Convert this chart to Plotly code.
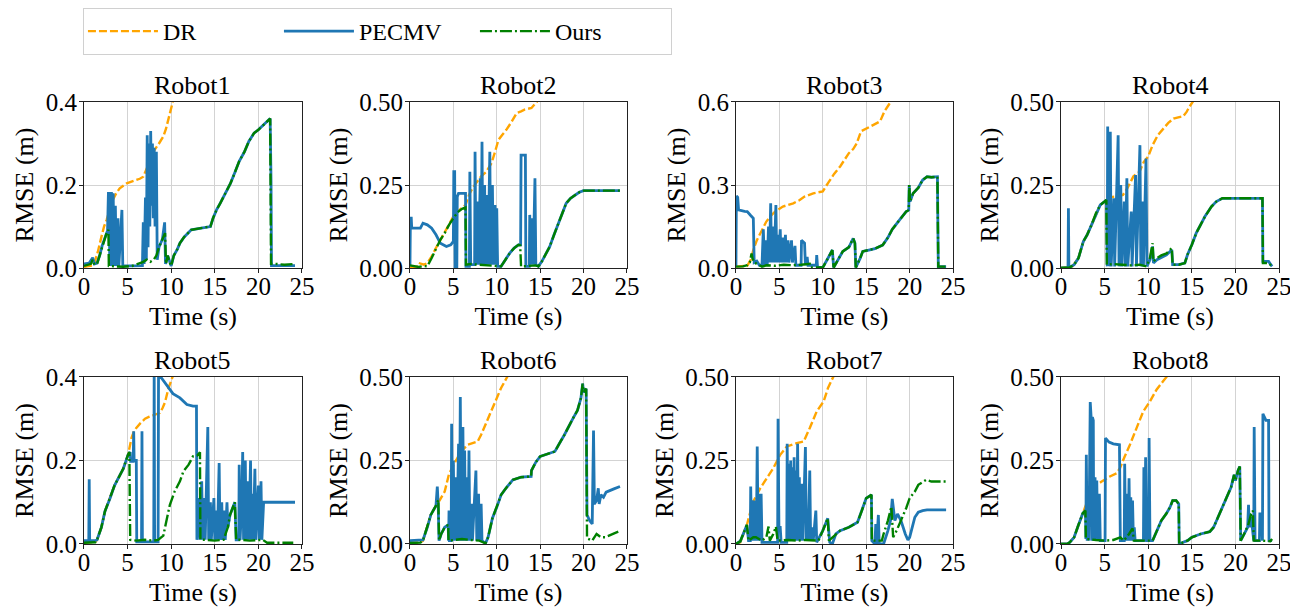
import plotly.graph_objects as go

# ---------------- data: [time (s), RMSE (m)] ----------------
r1_dr = [[0,0.003],[1.0,0.006],[1.2,0.012],[1.6,0.04],[2.0,0.075],[2.3,0.1],[2.6,0.116],[2.9,0.135],[3.3,0.164],[3.7,0.18],[4.1,0.192],[4.9,0.204],[5.8,0.21],[6.4,0.215],[6.8,0.22],[7.1,0.235],[7.4,0.25],[8.1,0.285],[8.6,0.3],[9.1,0.317],[9.4,0.335],[9.7,0.357],[10.0,0.385],[10.3,0.41]]
r1_pe = [[0,0.01],[0.6,0.012],[1.0,0.025],[1.2,0.01],[1.5,0.012],[1.8,0.03],[2.1,0.055],[2.4,0.075],[2.7,0.09],[2.8,0.18],[2.9,0.18],[2.95,0.005],[3.05,0.18],[3.15,0.18],[3.2,0.005],[3.35,0.18],[3.45,0.005],[3.6,0.15],[3.7,0.005],[3.9,0.12],[4.0,0.005],[4.35,0.14],[4.45,0.005],[5.5,0.005],[6.7,0.006],[6.8,0.11],[6.9,0.01],[7.05,0.17],[7.15,0.02],[7.25,0.32],[7.35,0.05],[7.45,0.3],[7.55,0.1],[7.65,0.33],[7.75,0.15],[7.85,0.3],[7.95,0.12],[8.05,0.29],[8.15,0.1],[8.3,0.28],[8.4,0.02],[8.6,0.05],[9.0,0.07],[9.25,0.11],[9.35,0.01],[9.6,0.03],[9.8,0.015],[10.0,0.005],[10.3,0.03],[10.7,0.045],[11.0,0.06],[11.5,0.075],[12.3,0.092],[13.0,0.095],[14.0,0.098],[14.5,0.1],[14.8,0.12],[15.2,0.14],[15.6,0.155],[16.2,0.18],[16.8,0.204],[17.3,0.23],[17.8,0.257],[18.4,0.28],[18.9,0.305],[19.5,0.325],[20.0,0.333],[20.6,0.345],[21.35,0.36],[21.45,0.21],[21.5,0.006],[22,0.006],[24.2,0.006]]
r1_ours = [[0,0.005],[0.4,0.008],[0.8,0.01],[1.0,0.02],[1.2,0.008],[1.5,0.01],[1.8,0.03],[2.1,0.055],[2.4,0.075],[2.6,0.085],[2.8,0.092],[2.85,0.005],[3.5,0.004],[4.5,0.003],[5.5,0.005],[6.2,0.01],[6.8,0.015],[7.2,0.02],[7.6,0.015],[8.0,0.02],[8.3,0.03],[8.6,0.05],[9.0,0.07],[9.3,0.084],[9.4,0.01],[9.6,0.03],[9.8,0.015],[10.0,0.005],[10.3,0.03],[10.7,0.045],[11.0,0.06],[11.5,0.075],[12.3,0.092],[13.0,0.095],[14.0,0.098],[14.5,0.1],[14.8,0.12],[15.2,0.14],[15.6,0.155],[16.2,0.18],[16.8,0.204],[17.3,0.23],[17.8,0.257],[18.4,0.28],[18.9,0.305],[19.5,0.325],[20.0,0.333],[20.6,0.345],[21.35,0.36],[21.45,0.01],[22,0.01],[23,0.008],[24.2,0.01]]

r2_dr = [[0,0.002],[1.0,0.005],[1.15,0.014],[1.6,0.01],[2.0,0.015],[2.5,0.035],[3.07,0.064],[3.5,0.085],[4.0,0.105],[4.5,0.13],[5.0,0.155],[5.5,0.17],[5.9,0.18],[6.4,0.19],[6.8,0.22],[7.1,0.235],[7.6,0.255],[8.2,0.276],[8.8,0.29],[9.4,0.316],[9.8,0.35],[10.2,0.386],[10.6,0.4],[11.1,0.416],[11.7,0.44],[12.3,0.467],[12.8,0.472],[13.2,0.477],[14.0,0.482],[14.3,0.49],[14.6,0.5],[15.0,0.52]]
r2_pe = [[0,0.005],[0.05,0.15],[0.15,0.15],[0.2,0.12],[0.8,0.12],[1.2,0.12],[1.5,0.135],[2.0,0.13],[2.5,0.12],[3.0,0.1],[3.5,0.075],[4.2,0.065],[4.7,0.07],[5.0,0.08],[5.05,0.29],[5.15,0.29],[5.2,0.0],[5.4,0.0],[5.45,0.215],[5.6,0.225],[6.4,0.225],[6.45,0.005],[6.85,0.005],[6.9,0.29],[7.0,0.01],[7.45,0.01],[7.5,0.35],[7.6,0.01],[7.8,0.2],[7.9,0.01],[8.1,0.27],[8.2,0.01],[8.3,0.38],[8.4,0.01],[8.6,0.25],[8.7,0.01],[8.9,0.22],[9.0,0.01],[9.2,0.35],[9.3,0.01],[9.5,0.25],[9.6,0.01],[9.8,0.19],[9.9,0.01],[10.0,0.18],[10.1,0.005],[10.5,0.005],[11.0,0.025],[11.5,0.045],[12.0,0.06],[12.5,0.07],[12.75,0.07],[12.8,0.34],[13.3,0.34],[13.35,0.005],[13.75,0.005],[13.8,0.16],[13.9,0.01],[14.1,0.15],[14.2,0.01],[14.4,0.27],[14.5,0.01],[14.8,0.005],[15.2,0.02],[15.6,0.04],[16.1,0.064],[16.6,0.1],[17.1,0.135],[17.5,0.165],[18.0,0.195],[18.5,0.21],[19.0,0.22],[19.5,0.228],[20.0,0.233],[24.2,0.233]]
r2_ours = [[0,0.008],[0.5,0.005],[1.0,0.003],[1.5,0.006],[2.0,0.005],[2.5,0.03],[3.0,0.06],[3.5,0.085],[4.0,0.105],[4.5,0.13],[5.0,0.15],[5.5,0.168],[6.0,0.178],[6.4,0.182],[6.45,0.01],[7.0,0.012],[8.0,0.01],[9.0,0.008],[10.0,0.005],[10.5,0.005],[11.0,0.025],[11.5,0.045],[12.0,0.06],[12.5,0.07],[12.7,0.068],[12.8,0.005],[13.5,0.006],[14.5,0.008],[14.8,0.005],[15.2,0.02],[15.6,0.04],[16.1,0.064],[16.6,0.1],[17.1,0.135],[17.5,0.165],[18.0,0.195],[18.5,0.21],[19.0,0.22],[19.5,0.228],[20.0,0.233],[24.2,0.233]]

r3_dr = [[0,0.005],[1.3,0.008],[1.7,0.03],[2.0,0.065],[2.4,0.1],[3.0,0.135],[3.5,0.168],[4.0,0.188],[4.5,0.204],[5.4,0.222],[6.0,0.228],[6.6,0.234],[7.3,0.245],[7.9,0.258],[8.9,0.27],[10.0,0.277],[10.6,0.307],[11.3,0.34],[12.0,0.367],[12.5,0.39],[13.0,0.415],[13.5,0.43],[13.9,0.45],[14.4,0.494],[15.4,0.512],[16.0,0.52],[16.6,0.53],[17.1,0.566],[17.6,0.59],[18.0,0.61]]
r3_pe = [[0,0.005],[0.05,0.26],[0.2,0.255],[0.3,0.21],[1.0,0.205],[1.3,0.204],[1.7,0.19],[2.0,0.18],[2.1,0.02],[2.4,0.025],[2.7,0.01],[3.0,0.01],[3.15,0.14],[3.3,0.01],[3.5,0.1],[3.6,0.01],[3.75,0.15],[3.85,0.02],[4.0,0.234],[4.1,0.02],[4.3,0.15],[4.4,0.02],[4.6,0.228],[4.7,0.02],[4.8,0.12],[4.9,0.02],[5.1,0.14],[5.2,0.02],[5.4,0.11],[5.5,0.02],[5.7,0.12],[5.8,0.02],[6.0,0.1],[6.1,0.02],[6.4,0.1],[6.5,0.02],[6.8,0.08],[6.9,0.01],[7.5,0.01],[7.55,0.1],[7.9,0.09],[8.0,0.01],[8.2,0.04],[8.3,0.01],[9.25,0.01],[9.3,0.047],[9.4,0.002],[10.0,0.002],[10.5,0.03],[11.1,0.065],[11.25,0.002],[11.6,0.02],[12.0,0.045],[12.3,0.06],[13.0,0.075],[13.5,0.107],[13.7,0.09],[13.8,0.002],[14.3,0.035],[14.6,0.06],[15.3,0.065],[16.0,0.07],[16.9,0.083],[17.5,0.11],[18.0,0.14],[18.5,0.162],[19.0,0.18],[19.6,0.204],[19.9,0.21],[19.95,0.3],[20.05,0.24],[20.4,0.27],[21.0,0.29],[21.5,0.318],[22.0,0.33],[22.5,0.328],[23.2,0.33],[23.3,0.005],[24.2,0.005]]
r3_ours = [[0,0.005],[0.8,0.006],[1.3,0.01],[1.6,0.02],[1.8,0.053],[1.9,0.035],[2.1,0.02],[2.5,0.012],[3.0,0.005],[3.5,0.01],[4.5,0.008],[5.5,0.012],[6.5,0.01],[7.5,0.012],[8.5,0.015],[8.6,0.002],[10.0,0.002],[10.5,0.03],[11.1,0.065],[11.25,0.002],[11.6,0.02],[12.0,0.045],[12.3,0.06],[13.0,0.075],[13.5,0.107],[13.7,0.09],[13.8,0.002],[14.3,0.035],[14.6,0.06],[15.3,0.065],[16.0,0.07],[16.9,0.083],[17.5,0.11],[18.0,0.14],[18.5,0.162],[19.0,0.18],[19.6,0.204],[19.9,0.21],[19.95,0.3],[20.05,0.24],[20.4,0.27],[21.0,0.29],[21.5,0.318],[22.0,0.33],[22.5,0.328],[23.2,0.33],[23.3,0.005],[24.2,0.005]]

r4_dr = [[0,0.0],[1.3,0.005],[2.0,0.03],[2.56,0.08],[3.0,0.1],[3.5,0.13],[4.0,0.165],[4.5,0.19],[5.0,0.2],[5.6,0.213],[6.3,0.215],[7.1,0.22],[7.6,0.24],[8.3,0.276],[9.0,0.29],[9.5,0.32],[10.0,0.336],[10.5,0.37],[11.1,0.4],[11.7,0.42],[12.3,0.437],[12.9,0.45],[14.0,0.457],[14.4,0.47],[14.7,0.485],[15.1,0.5],[15.4,0.52]]
r4_pe = [[0,0.0],[0.8,0.0],[0.85,0.18],[0.9,0.0],[1.0,0.002],[1.5,0.01],[2.0,0.03],[2.56,0.08],[3.0,0.1],[3.5,0.13],[4.0,0.165],[4.5,0.19],[5.0,0.2],[5.2,0.205],[5.3,0.005],[5.35,0.426],[5.45,0.005],[5.65,0.41],[5.75,0.005],[6.05,0.21],[6.15,0.005],[6.55,0.4],[6.65,0.005],[6.85,0.25],[6.95,0.005],[7.25,0.2],[7.35,0.005],[7.55,0.27],[7.65,0.005],[8.05,0.17],[8.15,0.005],[8.55,0.28],[8.65,0.005],[8.95,0.3],[9.05,0.37],[9.15,0.005],[9.35,0.2],[9.45,0.005],[9.75,0.33],[9.85,0.005],[10.2,0.025],[10.5,0.065],[10.6,0.015],[11.0,0.025],[11.5,0.032],[12.1,0.04],[12.5,0.05],[12.7,0.055],[12.8,0.01],[13.5,0.01],[14.2,0.015],[14.5,0.04],[15.0,0.07],[15.5,0.105],[16.0,0.13],[16.5,0.155],[17.25,0.185],[17.8,0.2],[18.5,0.21],[19.0,0.21],[23.1,0.21],[23.15,0.02],[23.8,0.02],[24.2,0.005]]
r4_ours = [[0,0.0],[0.8,0.0],[1.0,0.002],[1.5,0.01],[2.0,0.03],[2.56,0.08],[3.0,0.1],[3.5,0.13],[4.0,0.165],[4.5,0.19],[5.0,0.2],[5.2,0.205],[5.25,0.01],[6.0,0.012],[7.0,0.01],[8.0,0.008],[9.0,0.01],[9.8,0.005],[10.2,0.03],[10.5,0.075],[10.6,0.02],[11.0,0.03],[11.5,0.038],[12.1,0.044],[12.5,0.055],[12.7,0.06],[12.8,0.01],[13.5,0.01],[14.2,0.015],[14.5,0.04],[15.0,0.07],[15.5,0.105],[16.0,0.13],[16.5,0.155],[17.25,0.185],[17.8,0.2],[18.5,0.21],[19.0,0.21],[23.1,0.21],[23.15,0.015],[23.8,0.015],[24.2,0.005]]

r5_dr = [[0,0.003],[1.3,0.005],[1.5,0.01],[2.0,0.04],[2.4,0.078],[3.0,0.11],[3.5,0.14],[4.0,0.16],[4.5,0.18],[5.06,0.214],[5.3,0.235],[5.45,0.254],[5.7,0.268],[6.0,0.278],[6.5,0.29],[7.0,0.3],[7.5,0.305],[8.1,0.31],[8.7,0.314],[9.0,0.325],[9.3,0.34],[9.7,0.374],[10.2,0.4],[10.5,0.42]]
r5_pe = [[0,0.008],[0.55,0.008],[0.6,0.155],[0.65,0.008],[1.3,0.008],[1.5,0.01],[2.0,0.04],[2.4,0.078],[3.0,0.11],[3.5,0.14],[4.0,0.16],[4.5,0.18],[5.06,0.214],[5.3,0.22],[5.35,0.198],[5.65,0.198],[5.7,0.27],[5.75,0.2],[6.0,0.2],[6.05,0.005],[6.6,0.005],[6.65,0.27],[6.7,0.005],[8.0,0.005],[8.05,0.42],[8.1,0.005],[8.5,0.005],[8.55,0.42],[8.8,0.4],[9.5,0.38],[10.2,0.36],[11.0,0.35],[11.8,0.334],[12.5,0.33],[12.9,0.33],[12.95,0.01],[13.2,0.11],[13.3,0.01],[13.5,0.15],[13.6,0.01],[13.8,0.11],[13.9,0.01],[14.2,0.28],[14.3,0.01],[14.5,0.1],[14.6,0.01],[14.9,0.11],[15.0,0.01],[15.2,0.08],[15.3,0.01],[15.5,0.194],[15.6,0.01],[15.8,0.1],[15.9,0.01],[16.1,0.08],[16.2,0.01],[16.4,0.1],[16.5,0.04],[16.75,0.07],[17.3,0.1],[17.45,0.01],[17.75,0.01],[17.8,0.19],[17.9,0.01],[18.1,0.1],[18.2,0.22],[18.3,0.01],[18.5,0.2],[18.6,0.01],[18.8,0.15],[18.9,0.01],[19.1,0.2],[19.2,0.01],[19.3,0.12],[19.4,0.01],[19.6,0.18],[19.7,0.01],[20.0,0.14],[20.1,0.01],[20.3,0.15],[20.4,0.01],[20.6,0.1],[24.2,0.1]]
r5_ours = [[0,0.003],[1.3,0.004],[1.5,0.01],[2.0,0.04],[2.4,0.078],[3.0,0.11],[3.5,0.14],[4.0,0.16],[4.5,0.18],[5.06,0.214],[5.2,0.22],[5.3,0.01],[6.0,0.008],[7.0,0.01],[8.0,0.008],[8.5,0.01],[9.1,0.02],[9.5,0.06],[9.85,0.094],[10.4,0.126],[11.0,0.15],[11.4,0.174],[12.0,0.19],[12.5,0.21],[13.0,0.212],[13.3,0.22],[13.35,0.01],[14.0,0.01],[15.0,0.008],[16.0,0.01],[16.5,0.04],[16.75,0.07],[17.3,0.1],[17.45,0.01],[18.0,0.01],[19.0,0.008],[20.5,0.01],[21.0,0.003],[24.0,0.003]]

r6_dr = [[0,0.003],[1.2,0.005],[1.5,0.01],[2.0,0.05],[2.4,0.087],[3.0,0.115],[3.4,0.13],[4.0,0.157],[4.5,0.21],[5.3,0.25],[5.9,0.277],[6.65,0.297],[7.8,0.307],[8.2,0.327],[9.0,0.377],[9.7,0.417],[10.5,0.467],[11.2,0.5],[11.6,0.52]]
r6_pe = [[0,0.01],[1.2,0.01],[1.5,0.012],[2.0,0.05],[2.4,0.087],[3.0,0.115],[3.15,0.172],[3.25,0.12],[3.35,0.01],[3.6,0.03],[4.0,0.05],[4.4,0.057],[4.45,0.01],[4.5,0.1],[4.55,0.01],[4.75,0.01],[4.8,0.36],[4.9,0.01],[5.0,0.25],[5.1,0.01],[5.3,0.2],[5.4,0.01],[5.6,0.3],[5.7,0.01],[5.8,0.44],[5.9,0.01],[6.1,0.35],[6.2,0.01],[6.3,0.28],[6.4,0.01],[6.6,0.2],[6.7,0.01],[6.8,0.28],[6.9,0.01],[7.1,0.12],[7.2,0.01],[7.6,0.22],[7.7,0.01],[7.9,0.15],[8.0,0.01],[8.2,0.12],[8.3,0.01],[8.7,0.002],[9.0,0.02],[9.5,0.077],[10.0,0.11],[10.5,0.147],[11.0,0.165],[11.85,0.192],[12.8,0.2],[13.96,0.202],[14.0,0.22],[14.5,0.245],[15.0,0.262],[16.0,0.27],[16.7,0.277],[17.2,0.3],[17.8,0.327],[18.8,0.377],[19.3,0.4],[19.7,0.437],[19.9,0.48],[20.0,0.455],[20.3,0.465],[20.4,0.087],[20.7,0.07],[21.0,0.06],[21.15,0.34],[21.25,0.12],[21.5,0.13],[21.7,0.167],[21.8,0.12],[22.0,0.147],[22.3,0.14],[22.6,0.155],[23.0,0.16],[23.5,0.165],[24.2,0.172]]
r6_ours = [[0,0.003],[1.2,0.004],[1.5,0.01],[2.0,0.05],[2.4,0.087],[3.0,0.115],[3.27,0.132],[3.35,0.01],[3.6,0.03],[4.0,0.05],[4.4,0.057],[4.45,0.01],[5.0,0.012],[6.0,0.015],[7.0,0.012],[8.0,0.01],[8.7,0.002],[9.0,0.02],[9.5,0.077],[10.0,0.11],[10.5,0.147],[11.0,0.165],[11.85,0.192],[12.8,0.2],[13.96,0.202],[14.0,0.22],[14.5,0.245],[15.0,0.262],[16.0,0.27],[16.7,0.277],[17.2,0.3],[17.8,0.327],[18.8,0.377],[19.3,0.4],[19.7,0.437],[19.9,0.48],[20.0,0.455],[20.3,0.465],[20.4,0.017],[21.0,0.01],[21.5,0.03],[22.0,0.02],[22.5,0.02],[23.0,0.025],[24.0,0.037]]

r7_dr = [[0,0.0],[0.5,0.005],[1.0,0.04],[1.26,0.057],[1.6,0.09],[2.0,0.127],[2.8,0.167],[3.56,0.197],[4.3,0.227],[5.1,0.267],[5.86,0.292],[7.0,0.302],[7.8,0.307],[8.5,0.347],[9.3,0.397],[10.1,0.427],[10.6,0.467],[11.2,0.5],[11.5,0.52]]
r7_pe = [[0,0.0],[0.5,0.008],[1.0,0.04],[1.26,0.057],[1.45,0.01],[1.65,0.01],[1.7,0.172],[1.8,0.01],[1.9,0.13],[2.0,0.12],[2.1,0.01],[2.25,0.13],[2.35,0.01],[2.45,0.292],[2.55,0.01],[2.65,0.15],[2.75,0.01],[2.9,0.15],[3.0,0.005],[4.8,0.005],[4.85,0.375],[4.95,0.05],[5.1,0.05],[5.2,0.005],[5.85,0.005],[5.9,0.3],[6.0,0.01],[6.1,0.24],[6.2,0.01],[6.3,0.25],[6.4,0.01],[6.5,0.23],[6.6,0.01],[6.7,0.26],[6.8,0.01],[6.9,0.22],[7.0,0.01],[7.1,0.3],[7.2,0.01],[7.3,0.2],[7.4,0.01],[7.6,0.18],[7.7,0.01],[8.0,0.29],[8.1,0.01],[8.2,0.1],[8.3,0.01],[8.5,0.22],[8.6,0.01],[8.8,0.05],[8.9,0.01],[9.2,0.1],[9.3,0.005],[10.0,0.04],[10.57,0.077],[10.8,0.005],[11.1,0.0],[11.5,0.03],[12.0,0.04],[13.0,0.05],[14.0,0.065],[14.5,0.1],[15.0,0.137],[15.6,0.147],[15.65,0.01],[16.0,0.0],[16.1,0.06],[16.2,0.0],[16.4,0.087],[16.5,0.0],[17.0,0.0],[17.5,0.04],[17.8,0.07],[18.0,0.135],[18.3,0.07],[18.6,0.09],[19.0,0.07],[19.5,0.03],[19.8,0.012],[20.0,0.02],[20.3,0.05],[20.6,0.08],[21.0,0.095],[21.5,0.1],[22.0,0.102],[24.2,0.102]]
r7_ours = [[0,0.0],[0.5,0.008],[1.0,0.04],[1.26,0.057],[1.45,0.01],[2.0,0.02],[2.3,0.02],[3.0,0.01],[3.5,0.02],[3.75,0.052],[3.9,0.01],[4.3,0.03],[4.6,0.052],[4.8,0.01],[6.0,0.012],[7.0,0.01],[8.0,0.012],[9.0,0.01],[9.5,0.01],[10.0,0.04],[10.57,0.077],[10.7,0.01],[11.5,0.03],[12.0,0.04],[13.0,0.05],[14.0,0.065],[14.5,0.1],[15.0,0.137],[15.6,0.147],[15.65,0.01],[16.0,0.01],[16.8,0.01],[17.0,0.03],[17.5,0.07],[17.9,0.112],[18.1,0.02],[18.5,0.04],[19.0,0.07],[19.6,0.107],[20.0,0.137],[20.6,0.157],[21.0,0.177],[21.5,0.185],[21.9,0.192],[22.5,0.187],[24.2,0.187]]

r8_dr = [[0,0.0],[0.7,0.0],[1.0,0.005],[1.5,0.02],[2.0,0.057],[2.5,0.092],[2.9,0.12],[3.5,0.15],[4.1,0.177],[4.66,0.187],[5.6,0.202],[6.4,0.212],[6.76,0.227],[7.3,0.262],[7.9,0.297],[8.66,0.347],[9.43,0.397],[10.2,0.427],[10.95,0.462],[11.7,0.487],[12.1,0.5],[12.4,0.52]]
r8_pe = [[0,0.0],[0.7,0.0],[1.0,0.005],[1.5,0.02],[2.0,0.057],[2.5,0.092],[2.8,0.1],[2.85,0.015],[2.9,0.267],[3.0,0.01],[3.1,0.1],[3.2,0.01],[3.35,0.425],[3.45,0.38],[3.55,0.01],[3.6,0.38],[3.7,0.37],[3.75,0.01],[3.9,0.2],[4.0,0.01],[4.1,0.19],[4.2,0.01],[4.4,0.15],[4.5,0.01],[5.05,0.01],[5.1,0.317],[5.5,0.305],[6.0,0.3],[6.7,0.297],[6.8,0.01],[7.25,0.01],[7.3,0.24],[7.4,0.01],[7.6,0.15],[7.7,0.01],[7.8,0.197],[7.9,0.01],[8.0,0.14],[8.1,0.01],[8.2,0.13],[8.3,0.01],[8.4,0.05],[8.5,0.01],[9.45,0.01],[9.5,0.23],[9.6,0.01],[9.7,0.26],[9.8,0.01],[10.05,0.01],[10.1,0.317],[10.2,0.01],[10.5,0.01],[11.0,0.04],[11.5,0.07],[12.1,0.092],[12.5,0.11],[12.8,0.13],[13.2,0.13],[13.5,0.12],[13.55,0.0],[14.0,0.005],[14.5,0.01],[15.0,0.02],[16.0,0.03],[17.06,0.037],[17.5,0.05],[18.0,0.08],[18.6,0.117],[19.0,0.14],[19.5,0.17],[19.85,0.207],[20.0,0.19],[20.3,0.22],[20.5,0.232],[20.6,0.01],[21.0,0.03],[21.4,0.05],[21.5,0.117],[21.6,0.05],[21.8,0.08],[22.1,0.01],[22.15,0.35],[22.25,0.01],[22.75,0.01],[22.8,0.09],[23.0,0.09],[23.1,0.01],[23.15,0.39],[23.3,0.38],[23.5,0.37],[23.8,0.37],[23.85,0.01],[24.2,0.01]]
r8_ours = [[0,0.0],[0.7,0.0],[1.0,0.005],[1.5,0.02],[2.0,0.057],[2.5,0.092],[2.8,0.1],[2.85,0.015],[4.0,0.012],[5.0,0.01],[6.0,0.012],[6.8,0.02],[7.2,0.01],[7.8,0.03],[8.2,0.047],[8.35,0.01],[9.5,0.01],[10.5,0.01],[11.0,0.04],[11.5,0.07],[12.1,0.092],[12.5,0.11],[12.8,0.13],[13.2,0.13],[13.5,0.12],[13.55,0.0],[14.0,0.005],[14.5,0.01],[15.0,0.02],[16.0,0.03],[17.06,0.037],[17.5,0.05],[18.0,0.08],[18.6,0.117],[19.0,0.14],[19.5,0.17],[19.85,0.207],[20.0,0.19],[20.3,0.22],[20.5,0.232],[20.6,0.01],[21.0,0.03],[21.5,0.06],[21.8,0.09],[22.0,0.1],[22.1,0.01],[23.0,0.01],[24.0,0.008],[24.2,0.015]]

robot_names = ["Robot1", "Robot2", "Robot3", "Robot4", "Robot5", "Robot6", "Robot7", "Robot8"]
dr_series = [r1_dr, r2_dr, r3_dr, r4_dr, r5_dr, r6_dr, r7_dr, r8_dr]
pe_series = [r1_pe, r2_pe, r3_pe, r4_pe, r5_pe, r6_pe, r7_pe, r8_pe]
ours_series = [r1_ours, r2_ours, r3_ours, r4_ours, r5_ours, r6_ours, r7_ours, r8_ours]
y_max = [0.4, 0.5, 0.6, 0.5, 0.4, 0.5, 0.5, 0.5]
y_ticks = [[0, 0.2, 0.4], [0, 0.25, 0.5], [0, 0.3, 0.6], [0, 0.25, 0.5],
           [0, 0.2, 0.4], [0, 0.25, 0.5], [0, 0.25, 0.5], [0, 0.25, 0.5]]
y_ticklabels = [["0.0", "0.2", "0.4"], ["0.00", "0.25", "0.50"], ["0.0", "0.3", "0.6"], ["0.00", "0.25", "0.50"],
                ["0.0", "0.2", "0.4"], ["0.00", "0.25", "0.50"], ["0.00", "0.25", "0.50"], ["0.00", "0.25", "0.50"]]
x_ticks = [0, 5, 10, 15, 20, 25]
series_names = ["DR", "PECMV", "Ours"]

# ---------------- styling ----------------
FONT = "Liberation Serif"
colors = {"DR": "#FFA500", "PECMV": "#1f77b4", "Ours": "#008000"}
dashes = {"DR": "8px,3px", "PECMV": "solid", "Ours": "12px,3px,2px,3px"}
widths = {"DR": 2.4, "PECMV": 2.8, "Ours": 2.4}

# figure sits 8px in from the page corner (default body margin)
col_dom = [[0.0589, 0.2279], [0.3116, 0.4798], [0.5643, 0.7326], [0.8163, 0.9853]]
row_dom = [[0.5659, 0.8431], [0.1052, 0.3840]]

fig = go.Figure()
annotations = []
for i in range(8):
    k = i + 1
    xa = "x" if k == 1 else f"x{k}"
    ya = "y" if k == 1 else f"y{k}"
    for name, data in zip(series_names, [dr_series[i], pe_series[i], ours_series[i]]):
        fig.add_trace(go.Scatter(
            x=[p[0] for p in data], y=[p[1] for p in data],
            mode="lines", name=name, legendgroup=name, showlegend=(i == 0),
            line=dict(color=colors[name], width=widths[name], dash=dashes[name]),
            xaxis=xa, yaxis=ya,
        ))
    r, c = divmod(i, 4)
    axis_common = dict(
        showline=True, linecolor="#222222", linewidth=1, mirror=True,
        showgrid=True, gridcolor="#d3d3d3", gridwidth=1, zeroline=False,
        ticks="outside", ticklen=4, tickcolor="#222222", automargin=False,
        tickfont=dict(family=FONT, size=25, color="black"),
    )
    fig.layout[f"xaxis{k}" if k > 1 else "xaxis"] = dict(
        domain=col_dom[c], anchor=ya, range=[0, 25], tickvals=x_ticks,
        ticklabelstandoff=-8,
        title=dict(text="Time (s)", font=dict(family=FONT, size=26, color="black"), standoff=7),
        **axis_common)
    fig.layout[f"yaxis{k}" if k > 1 else "yaxis"] = dict(
        domain=row_dom[r], anchor=xa, range=[0, y_max[i]],
        tickvals=y_ticks[i], ticktext=y_ticklabels[i],
        ticklabelstandoff=-3,
        title=dict(text="RMSE (m)", font=dict(family=FONT, size=26, color="black"), standoff=4),
        **axis_common)
    annotations.append(dict(
        text=robot_names[i], x=0.5, y=1, xref=f"{xa} domain", yref=f"{ya} domain",
        xanchor="center", yanchor="bottom", showarrow=False, yshift=0,
        font=dict(family=FONT, size=26, color="black")))

fig.update_layout(
    width=1290, height=599,
    margin=dict(l=0, r=0, t=0, b=0, autoexpand=False),
    paper_bgcolor="white", plot_bgcolor="white",
    annotations=annotations,
    font=dict(family=FONT, color="black"),
    legend=dict(
        orientation="h", x=0.0581, y=1.0, xanchor="left", yanchor="top",
        font=dict(family=FONT, size=24, color="black"),
        bordercolor="#d0d0d0", borderwidth=1, bgcolor="white",
        entrywidth=111, entrywidthmode="pixels", itemwidth=70,
        tracegroupgap=0,
    ),
)

fig.write_html("out.html")
